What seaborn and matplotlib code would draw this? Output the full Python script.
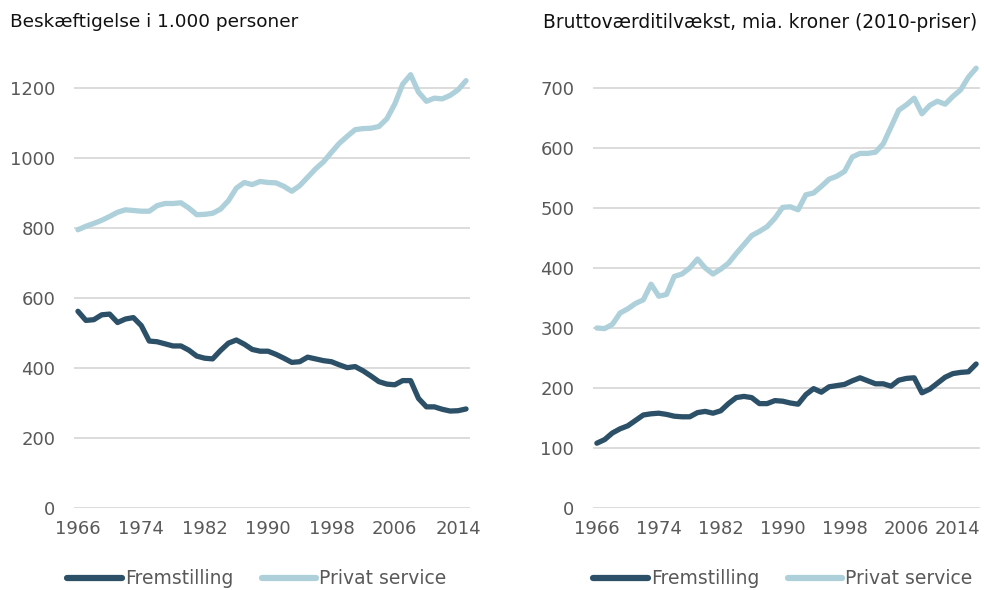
import matplotlib
matplotlib.use("Agg")
import matplotlib.pyplot as plt
import matplotlib.transforms as mtransforms
import numpy as np
import pandas as pd
import seaborn as sns

years = list(range(1966, 2016))

# Beskæftigelse, 1.000 personer
emp_fremstilling = [562, 536, 538, 552, 554, 530, 540, 544, 521, 477,
                    475, 469, 463, 463, 451, 434, 428, 426, 450, 471,
                    480, 468, 453, 448, 448, 439, 428, 416, 418, 431,
                    426, 421, 418, 409, 401, 404, 392, 377, 361, 354,
                    352, 364, 364, 313, 289, 289, 282, 277, 278, 283]
emp_privat = [795, 805, 813, 822, 833, 845, 852, 850, 848, 848,
              864, 870, 870, 872, 857, 838, 839, 842, 854, 878,
              914, 930, 924, 933, 930, 929, 919, 905, 921, 945,
              969, 989, 1016, 1042, 1062, 1081, 1084, 1085, 1090, 1112,
              1154, 1211, 1238, 1188, 1162, 1171, 1169, 1179, 1195, 1221]

# Bruttoværditilvækst, mia. kroner (2010-priser)
bvt_fremstilling = [108, 114, 125, 132, 137, 146, 155, 157, 158, 156,
                    153, 152, 152, 159, 161, 158, 162, 174, 184, 186,
                    184, 174, 174, 179, 178, 175, 173, 189, 199, 193,
                    202, 204, 206, 212, 217, 212, 207, 207, 203, 213,
                    216, 217, 192, 198, 208, 218, 224, 226, 227, 240]
bvt_privat = [300, 299, 306, 325, 332, 341, 347, 373, 353, 356,
              386, 390, 400, 415, 400, 390, 398, 408, 424, 439,
              454, 461, 469, 483, 501, 502, 497, 522, 525, 536,
              548, 553, 561, 585, 591, 591, 593, 607, 635, 663,
              672, 683, 657, 671, 678, 673, 686, 697, 718, 733]

series_names = ["Fremstilling", "Privat service"]
year_ticks = [1966, 1974, 1982, 1990, 1998, 2006, 2014]
emp_ticks = [0, 200, 400, 600, 800, 1000, 1200]
bvt_ticks = [0, 100, 200, 300, 400, 500, 600, 700]
titles = ["Beskæftigelse i 1.000 personer",
          "Bruttoværditilvækst, mia. kroner (2010-priser)"]

palette = {"Fremstilling": "#2C5067", "Privat service": "#AED0DB"}
grey_text = "#595959"
grid_col = "#D9D9D9"

sns.set_style("white")
plt.rcParams["font.family"] = ["DejaVu Sans"]


def long_frame(a, b):
    return pd.DataFrame({
        "år": years * 2,
        "værdi": a + b,
        "serie": [series_names[0]] * len(years) + [series_names[1]] * len(years),
    })


fig = plt.figure(figsize=(9.84, 5.90), dpi=100)
W, H = 984, 590

def px_axes(x0, x1, y_bottom, y_top):
    return fig.add_axes([x0 / W, 1 - y_bottom / H, (x1 - x0) / W, (y_bottom - y_top) / H])

ax1 = px_axes(74, 470, 508, 53)
ax2 = px_axes(593, 980, 508, 52)

panels = [
    (ax1, long_frame(emp_fremstilling, emp_privat), emp_ticks, 1300, 257),
    (ax2, long_frame(bvt_fremstilling, bvt_privat), bvt_ticks, 760, 783),
]

for ax, df, yticks, ymax, leg_x in panels:
    sns.lineplot(data=df, x="år", y="værdi", hue="serie", palette=palette,
                 linewidth=3.8, ax=ax, legend=False, zorder=3)
    for ln in ax.lines:
        ln.set_solid_capstyle("round")
        ln.set_solid_joinstyle("round")
    ax.set_xlim(1965.5, 2015.5)
    ax.set_ylim(0, ymax)
    ax.set_yticks(yticks)
    ax.set_xticks(year_ticks)
    ax.set_xlabel("")
    ax.set_ylabel("")
    for s in ax.spines.values():
        s.set_visible(False)
    ax.grid(False)
    for t in yticks:
        ax.axhline(t, color=grid_col, linewidth=1.3, zorder=1)
    ax.tick_params(axis="y", length=0, pad=13.5, labelsize=13, labelcolor=grey_text)
    ax.tick_params(axis="x", length=0, pad=9, labelsize=13, labelcolor=grey_text)

    handles = [plt.Line2D([], [], color=palette[n], linewidth=4.5, solid_capstyle="round")
               for n in series_names]
    fig.legend(handles, series_names, loc="center",
               bbox_to_anchor=(leg_x / W, 1 - 579 / H), ncol=2, frameon=False,
               fontsize=13.5, labelcolor=grey_text, handlelength=2.9,
               handletextpad=0.15, columnspacing=1.55)

# keep the last year label of the right panel inside the figure
fig.canvas.draw()
last_lbl = ax2.get_xticklabels()[-1]
shift = mtransforms.ScaledTranslation(-11 / 100, 0, fig.dpi_scale_trans)
last_lbl.set_transform(last_lbl.get_transform() + shift)

fig.text(10 / W, 1 - 22 / H, titles[0], fontsize=13.3, color="#111111", va="center", ha="left")
fig.text(543 / W, 1 - 22 / H, titles[1], fontsize=13.4, color="#111111", va="center", ha="left")

fig.savefig("out.png", dpi=100)
